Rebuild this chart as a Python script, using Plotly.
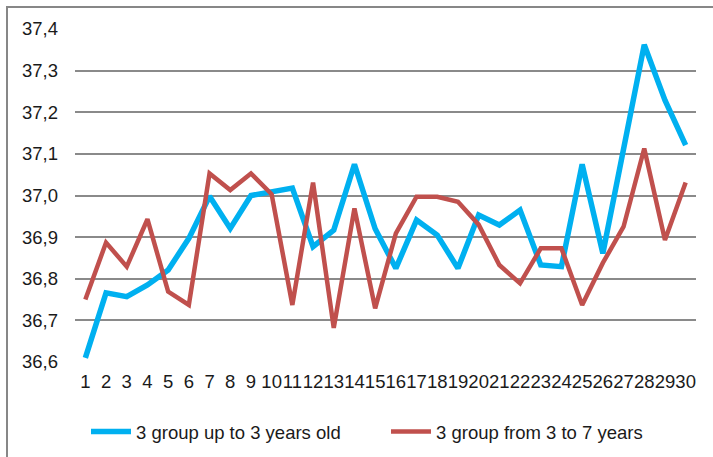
import plotly.graph_objects as go

# Day numbers along the x axis
days = [str(d) for d in range(1, 31)]

# Mean body temperature per day, group up to 3 years old
temp_under3 = [36.61, 36.766, 36.757, 36.785, 36.821, 36.897, 36.998, 36.921, 37.0, 37.009,
               37.018, 36.877, 36.917, 37.075, 36.92, 36.825, 36.941, 36.905, 36.825, 36.953,
               36.929, 36.965, 36.833, 36.829, 37.075, 36.861, 37.11, 37.362, 37.229, 37.121]

# Mean body temperature per day, group from 3 to 7 years
temp_3to7 = [36.75, 36.887, 36.829, 36.943, 36.769, 36.737, 37.053, 37.013, 37.053, 37.003,
             36.737, 37.031, 36.682, 36.969, 36.729, 36.909, 36.997, 36.997, 36.985, 36.93,
             36.833, 36.789, 36.873, 36.873, 36.737, 36.838, 36.925, 37.113, 36.893, 37.031]

y_ticks = [36.6, 36.7, 36.8, 36.9, 37.0, 37.1, 37.2, 37.3, 37.4]

W, H = 713, 457
L, R, T, B = 75, 17, 29, 95
pw, ph = W - L - R, H - T - B

font = "Liberation Sans, Arial, sans-serif"

fig = go.Figure()
fig.add_trace(go.Scatter(
    x=days, y=temp_under3, mode="lines", name="3 group up to 3 years old",
    line=dict(color="#00B0F0", width=5.5),
))
fig.add_trace(go.Scatter(
    x=days, y=temp_3to7, mode="lines", name="3 group from 3 to 7 years",
    line=dict(color="#C0504D", width=4.5),
))

# Chart frame
fig.add_shape(
    type="rect", xref="paper", yref="paper",
    x0=(7 - L) / pw, x1=(W + 10 - L) / pw,
    y0=-(H + 10 - T - ph) / ph, y1=(T + ph - 7) / ph,
    line=dict(color="#878787", width=2), fillcolor="rgba(0,0,0,0)", layer="below",
)

fig.update_layout(
    width=W, height=H,
    margin=dict(l=L, r=R, t=T, b=B, autoexpand=False),
    paper_bgcolor="white", plot_bgcolor="white",
    separators=", ",
    font=dict(family=font, size=18.5, color="#1a1a1a"),
    showlegend=True,
    legend=dict(
        orientation="h", xref="container", yref="container",
        x=86 / W, xanchor="left",
        y=1 - 432 / H, yanchor="middle",
        font=dict(family=font, size=18.5, color="#1a1a1a"),
        itemwidth=40, entrywidth=245, entrywidthmode="pixels",
        bgcolor="rgba(0,0,0,0)", borderwidth=0,
    ),
    xaxis=dict(
        type="category", range=[-0.5, 29.5],
        tickmode="array", tickvals=days, ticktext=days,
        tickangle=0, showgrid=False, zeroline=False, showline=False,
        ticks="", ticklabelstandoff=6, tickfont=dict(size=18.5),
    ),
    yaxis=dict(
        range=[36.6, 37.4], tickvals=y_ticks, tickformat=".1f",
        showgrid=True, gridcolor="#8a8a8a", gridwidth=1.5,
        zeroline=False, showline=False, ticks="", ticklabelstandoff=16,
        tickfont=dict(size=18.5),
    ),
)

fig.write_html("out.html")
